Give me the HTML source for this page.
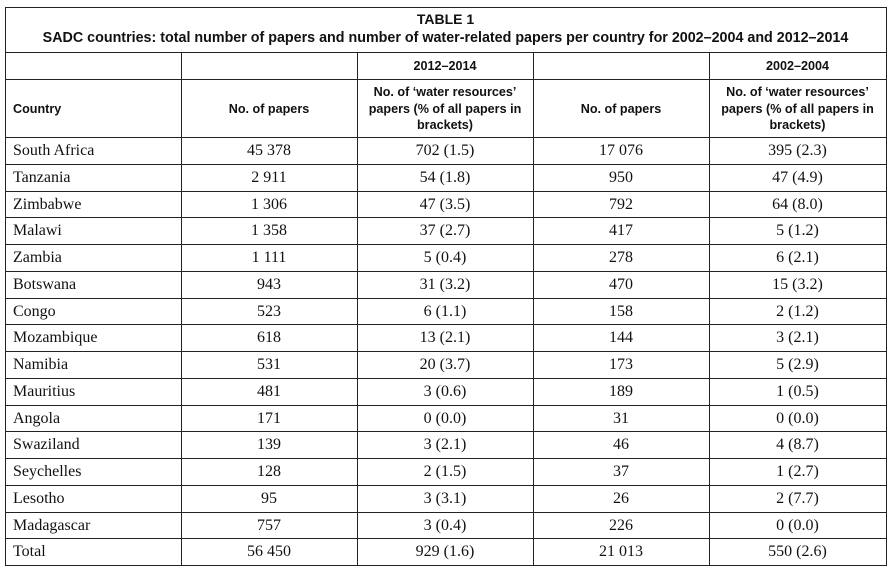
<!DOCTYPE html>
<html><head><meta charset="utf-8">
<style>
body{margin:0;width:892px;height:572px;background:#fff;position:relative;overflow:hidden;font-family:"Liberation Serif",serif;color:#111}
.l{position:absolute;background:#222}
.t{position:absolute;white-space:nowrap}
.h{font-family:"Liberation Sans",sans-serif;font-weight:bold;font-size:12.6px;text-align:center;line-height:16.5px}
.c{font-size:16px;line-height:27px;text-align:center}
</style></head><body>
<div id="root"></div>
<script>
const countries=["South Africa","Tanzania","Zimbabwe","Malawi","Zambia","Botswana","Congo","Mozambique","Namibia","Mauritius","Angola","Swaziland","Seychelles","Lesotho","Madagascar","Total"];
const papers2012=["45 378","2 911","1 306","1 358","1 111","943","523","618","531","481","171","139","128","95","757","56 450"];
const water2012=["702 (1.5)","54 (1.8)","47 (3.5)","37 (2.7)","5 (0.4)","31 (3.2)","6 (1.1)","13 (2.1)","20 (3.7)","3 (0.6)","0 (0.0)","3 (2.1)","2 (1.5)","3 (3.1)","3 (0.4)","929 (1.6)"];
const papers2002=["17 076","950","792","417","278","470","158","144","173","189","31","46","37","26","226","21 013"];
const water2002=["395 (2.3)","47 (4.9)","64 (8.0)","5 (1.2)","6 (2.1)","15 (3.2)","2 (1.2)","3 (2.1)","5 (2.9)","1 (0.5)","0 (0.0)","4 (8.7)","1 (2.7)","2 (7.7)","0 (0.0)","550 (2.6)"];
const root=document.getElementById('root');
const X=[5,181,357,533,709,886];
function line(x,y,w,h,n){const d=document.createElement('div');d.className='l';d.style.cssText=`left:${x}px;top:${y}px;width:${w}px;height:${h}px`;


root.appendChild(d);}
function txt(cls,x,y,w,h,html,n,align,pad){const d=document.createElement('div');d.className='t '+cls;d.style.cssText=`left:${x}px;top:${y}px;width:${w}px;height:${h}px;`+(align?`text-align:${align};padding-left:${pad}px;box-sizing:border-box;`:'');d.innerHTML=html;


root.appendChild(d);}
txt('h',5,11,881,18,'<span style="font-size:14px">TABLE 1</span>','table-title');
txt('h',5,30,881,18,'<span style="font-size:14.3px">SADC countries: total number of papers and number of water-related papers per country for 2002–2004 and 2012–2014</span>','table-caption');
txt('h',357,58,176,18,'2012–2014','period-2012-header');
txt('h',709,58,177,18,'2002–2004','period-2002-header');
txt('h',5,101,176,18,'Country','country-header','left',8);
txt('h',181,101,176,18,'No. of papers','papers-2012-header');
txt('h',357,84,176,52,'No. of ‘water resources’<br>papers (% of all papers in<br>brackets)','water-2012-header');
txt('h',533,101,176,18,'No. of papers','papers-2002-header');
txt('h',709,84,177,52,'No. of ‘water resources’<br>papers (% of all papers in<br>brackets)','water-2002-header');
const top0=137,rh=26.75;
countries.forEach((c,i)=>{const y=top0+i*rh;
txt('c',5,y,176,27,c,'country-cell','left',8);
txt('c',181,y,176,27,papers2012[i],'papers-2012-cell');
txt('c',357,y,176,27,water2012[i],'water-2012-cell');
txt('c',533,y,176,27,papers2002[i],'papers-2002-cell');
txt('c',709,y,177,27,water2002[i],'water-2002-cell');
line(5,Math.round(y+rh),882,1,'row-border');
});
line(5,7,882,1,'top-border');
line(5,52,882,1,'title-border');
line(5,79,882,1,'period-border');
line(5,137,882,1,'header-border');
X.forEach(x=>line(x,52,1,513,'column-border'));
line(5,7,1,45,'left-border');line(886,7,1,45,'right-border');
</script>
</body></html>
